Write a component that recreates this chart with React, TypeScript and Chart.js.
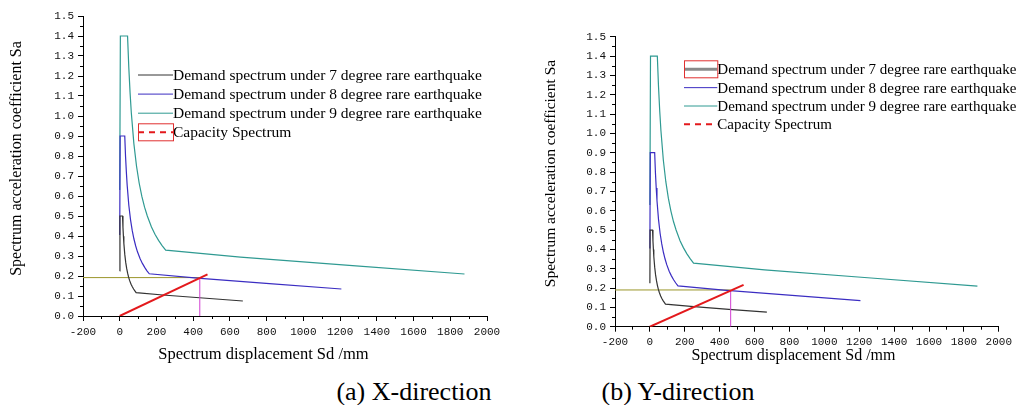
import React, { useEffect, useRef } from "react";
import { Chart, registerables } from "chart.js";

Chart.register(...registerables);

// ---- Data ----
// Demand spectra (identical in both directions): Sd in mm, Sa coefficient
const sd7 = [0, 1.2, 15.2, 17.6, 20.1, 22.5, 27.5, 32.6, 37.8, 43.0, 48.3, 53.6, 61.7, 68.6, 75.5, 82.4, 89.4, 234.8, 452.8, 670.5];
const sa7 = [0.225, 0.5, 0.5, 0.443, 0.399, 0.363, 0.308, 0.268, 0.238, 0.214, 0.194, 0.178, 0.159, 0.146, 0.135, 0.126, 0.117, 0.105, 0.09, 0.075];
const sd8 = [0, 2.2, 27.4, 31.7, 36.2, 40.6, 49.5, 58.7, 68.0, 77.4, 87.0, 96.6, 111.1, 123.4, 135.9, 148.3, 160.9, 422.6, 815.0, 1206.9];
const sa8 = [0.405, 0.9, 0.9, 0.798, 0.718, 0.653, 0.554, 0.482, 0.428, 0.385, 0.35, 0.321, 0.286, 0.263, 0.243, 0.226, 0.211, 0.189, 0.162, 0.135];
const sd9 = [0, 3.5, 42.6, 49.4, 56.3, 63.1, 77.0, 91.3, 105.8, 120.5, 135.2, 150.2, 172.8, 191.9, 211.4, 230.7, 250.3, 657.4, 1267.8, 1877.4];
const sa9 = [0.63, 1.4, 1.4, 1.242, 1.117, 1.016, 0.862, 0.75, 0.665, 0.598, 0.544, 0.5, 0.445, 0.409, 0.378, 0.352, 0.329, 0.294, 0.252, 0.21];

// Capacity spectra
const capSdX = [0, 478];
const capSaX = [0, 0.2085];
const capSdY = [0, 537];
const capSaY = [0, 0.216];

// Performance points
const perfSdX = 436;
const perfSaX = 0.192;
const perfSdY = 463;
const perfSaY = 0.19;

const legendLabels = [
  "Demand spectrum under 7 degree rare earthquake",
  "Demand spectrum under 8 degree rare earthquake",
  "Demand spectrum under 9 degree rare earthquake",
  "Capacity Spectrum",
];
const captions = ["(a) X-direction", "(b) Y-direction"];
const xTitleText = "Spectrum displacement Sd /mm";
const yTitleText = "Spectrum acceleration coefficient Sa";
const xMin = -200;
const xMax = 2000;
const xStep = 200;
const yMin = 0;
const yMax = 1.5;
const yStep = 0.1;

const COLORS = {
  d7: "#333333",
  d8: "#3b2dc2",
  d9: "#2f9a92",
  cap: "#e3191c",
  hor: "#9b962a",
  ver: "#d23fd2",
};

const zip = (xs: number[], ys: number[]) => xs.map((x, i) => ({ x, y: ys[i] }));

const minorTicks = {
  id: "minorTicks",
  afterDraw(chart: any) {
    const { ctx } = chart;
    const x = chart.scales.x;
    const y = chart.scales.y;
    ctx.save();
    ctx.strokeStyle = "#000";
    ctx.lineWidth = 1;
    ctx.beginPath();
    for (let v = xMin + xStep / 2; v < xMax; v += xStep) {
      const px = Math.round(x.getPixelForValue(v)) + 0.5;
      ctx.moveTo(px, y.bottom);
      ctx.lineTo(px, y.bottom + 3);
    }
    for (let k = 0; k < 15; k++) {
      const v = yMin + yStep / 2 + k * yStep;
      const py = Math.round(y.getPixelForValue(v)) + 0.5;
      ctx.moveTo(x.left - 3, py);
      ctx.lineTo(x.left, py);
    }
    ctx.stroke();
    ctx.restore();
  },
};

const customLegend = {
  id: "customLegend",
  afterDraw(chart: any, _args: any, opts: any) {
    const { ctx } = chart;
    const items = opts.items || [];
    ctx.save();
    ctx.font = `${opts.size}px "Liberation Serif", "Times New Roman", serif`;
    ctx.textBaseline = "middle";
    ctx.textAlign = "left";
    items.forEach((it: any, i: number) => {
      const yy = opts.y + i * opts.dy;
      ctx.beginPath();
      ctx.strokeStyle = it.color;
      ctx.lineWidth = it.width;
      ctx.setLineDash(it.dash || []);
      ctx.moveTo(opts.x, yy);
      ctx.lineTo(opts.x + opts.len, yy);
      ctx.stroke();
      ctx.setLineDash([]);
      ctx.fillStyle = "#000";
      ctx.fillText(it.label, opts.x + opts.len, yy + 1);
      if (i === opts.boxIndex) {
        ctx.strokeStyle = "#e03030";
        ctx.lineWidth = 1;
        ctx.strokeRect(opts.x + 0.5, yy - 8.5, opts.len, 17);
      }
    });
    ctx.restore();
  },
};

const axisTitles = {
  id: "axisTitles",
  afterDraw(chart: any, _args: any, opts: any) {
    const { ctx } = chart;
    ctx.save();
    ctx.fillStyle = "#000";
    ctx.textAlign = "center";
    ctx.textBaseline = "alphabetic";
    ctx.font = `${opts.xSize}px "Liberation Serif", "Times New Roman", serif`;
    ctx.fillText(xTitleText, opts.xCx, opts.xBase);
    ctx.translate(opts.yBase, opts.yCy);
    ctx.rotate(-Math.PI / 2);
    ctx.font = `${opts.ySize}px "Liberation Serif", "Times New Roman", serif`;
    ctx.fillText(yTitleText, 0, 0);
    ctx.restore();
  },
};

function makeConfig(p: any) {
  const capPts = zip(p.capSd, p.capSa);
  const hor = zip([xMin, p.perfSd], [p.perfSa, p.perfSa]);
  const ver = zip([p.perfSd, p.perfSd], [0, p.perfSa]);
  const common = { pointRadius: 0, tension: 0, fill: false, borderWidth: 1.2 };
  const legendItems = [
    { label: legendLabels[0], color: p.hl ? "#8a8a8a" : COLORS.d7, width: p.hl ? 3 : 1 },
    { label: legendLabels[1], color: COLORS.d8, width: 1 },
    { label: legendLabels[2], color: COLORS.d9, width: 1 },
    { label: legendLabels[3], color: COLORS.cap, width: 2, dash: [6, 5] },
  ];
  return {
    type: "line",
    data: {
      datasets: [
        { ...common, label: legendLabels[3], data: capPts, borderColor: COLORS.cap, borderWidth: 2 },
        { ...common, label: "perf-v", data: ver, borderColor: COLORS.ver, borderWidth: 1 },
        { ...common, label: legendLabels[0], data: zip(sd7, sa7), borderColor: COLORS.d7 },
        { ...common, label: legendLabels[1], data: zip(sd8, sa8), borderColor: COLORS.d8 },
        { ...common, label: "perf-h", data: hor, borderColor: COLORS.hor, borderWidth: 1 },
        { ...common, label: legendLabels[2], data: zip(sd9, sa9), borderColor: COLORS.d9 },
      ],
    },
    options: {
      animation: false,
      responsive: false,
      maintainAspectRatio: false,
      devicePixelRatio: 1,
      layout: { padding: { top: p.padTop, right: p.padRight, bottom: 0, left: 0 } },
      plugins: {
        legend: { display: false },
        tooltip: { enabled: false },
        customLegend: {
          items: legendItems,
          x: p.legX,
          y: p.legY,
          dy: p.legDy,
          len: p.legLen,
          size: p.legSize,
          boxIndex: p.boxIndex,
        },
        axisTitles: p.titles,
      },
      scales: {
        x: {
          type: "linear",
          min: xMin,
          max: xMax,
          ticks: {
            stepSize: xStep,
            autoSkip: false,
            maxRotation: 0,
            padding: 4,
            color: "#111",
            font: { family: "Liberation Mono", size: 11 },
            callback: (v: any) => String(v),
          },
          grid: { display: true, drawOnChartArea: false, drawTicks: true, tickLength: 5, color: "#000" },
          border: { display: true, color: "#000", width: 1 },
          afterFit: (s: any) => {
            s.height = p.xAxisH;
          },
        },
        y: {
          type: "linear",
          min: yMin,
          max: yMax,
          ticks: {
            stepSize: yStep,
            autoSkip: false,
            padding: 4,
            color: "#111",
            font: { family: "Liberation Mono", size: 11 },
            callback: (v: any) => Number(v).toFixed(1),
          },
          grid: { display: true, drawOnChartArea: false, drawTicks: true, tickLength: 5, color: "#000" },
          border: { display: true, color: "#000", width: 1 },
          afterFit: (s: any) => {
            s.width = p.yAxisW;
          },
        },
      },
    },
    plugins: [minorTicks, customLegend, axisTitles],
  };
}

const leftParams = {
  capSd: capSdX,
  capSa: capSaX,
  perfSd: perfSdX,
  perfSa: perfSaX,
  padTop: 16,
  padRight: 23,
  yAxisW: 83,
  xAxisH: 49,
  legX: 138,
  legY: 75,
  legDy: 19.1,
  legLen: 35,
  legSize: 15.5,
  boxIndex: 3,
  hl: false,
  titles: { xCx: 263.5, xBase: 358.5, xSize: 16.5, yBase: 20.5, yCy: 158.5, ySize: 16 },
};

const rightParams = {
  capSd: capSdY,
  capSa: capSaY,
  perfSd: perfSdY,
  perfSa: perfSaY,
  padTop: 36.7,
  padRight: 13,
  yAxisW: 95,
  xAxisH: 42.3,
  legX: 164,
  legY: 69.3,
  legDy: 18.35,
  legLen: 33.3,
  legSize: 15,
  boxIndex: 0,
  hl: true,
  titles: { xCx: 273.5, xBase: 359.5, xSize: 16, yBase: 34.6, yCy: 173.5, ySize: 15.5 },
};

function SpectrumChart(props: { params: any; left: number; width: number; height: number }) {
  const ref = useRef<HTMLCanvasElement | null>(null);
  useEffect(() => {
    if (!ref.current) return;
    const chart = new Chart(ref.current, makeConfig(props.params) as any);
    return () => chart.destroy();
  }, []);
  return (
    <canvas
      ref={ref}
      width={props.width}
      height={props.height}
      style={{ position: "absolute", left: props.left, top: 0, width: props.width, height: props.height }}
    />
  );
}

export default function App() {
  const capStyle = (cx: number): React.CSSProperties => ({
    position: "absolute",
    left: cx - 150,
    width: 300,
    top: 379,
    textAlign: "center",
    fontFamily: '"Liberation Serif", "Times New Roman", serif',
    fontSize: 26,
    lineHeight: "26px",
    color: "#000",
    whiteSpace: "nowrap",
  });
  return (
    <div
      style={{
        position: "fixed",
        left: 0,
        top: 0,
        width: 1016,
        height: 405,
        overflow: "hidden",
        background: "#fff",
      }}
    >
      <SpectrumChart params={leftParams} left={0} width={510} height={365} />
      <SpectrumChart params={rightParams} left={520} width={496} height={369} />
      <div style={capStyle(414)}>{captions[0]}</div>
      <div style={capStyle(678)}>{captions[1]}</div>
    </div>
  );
}
